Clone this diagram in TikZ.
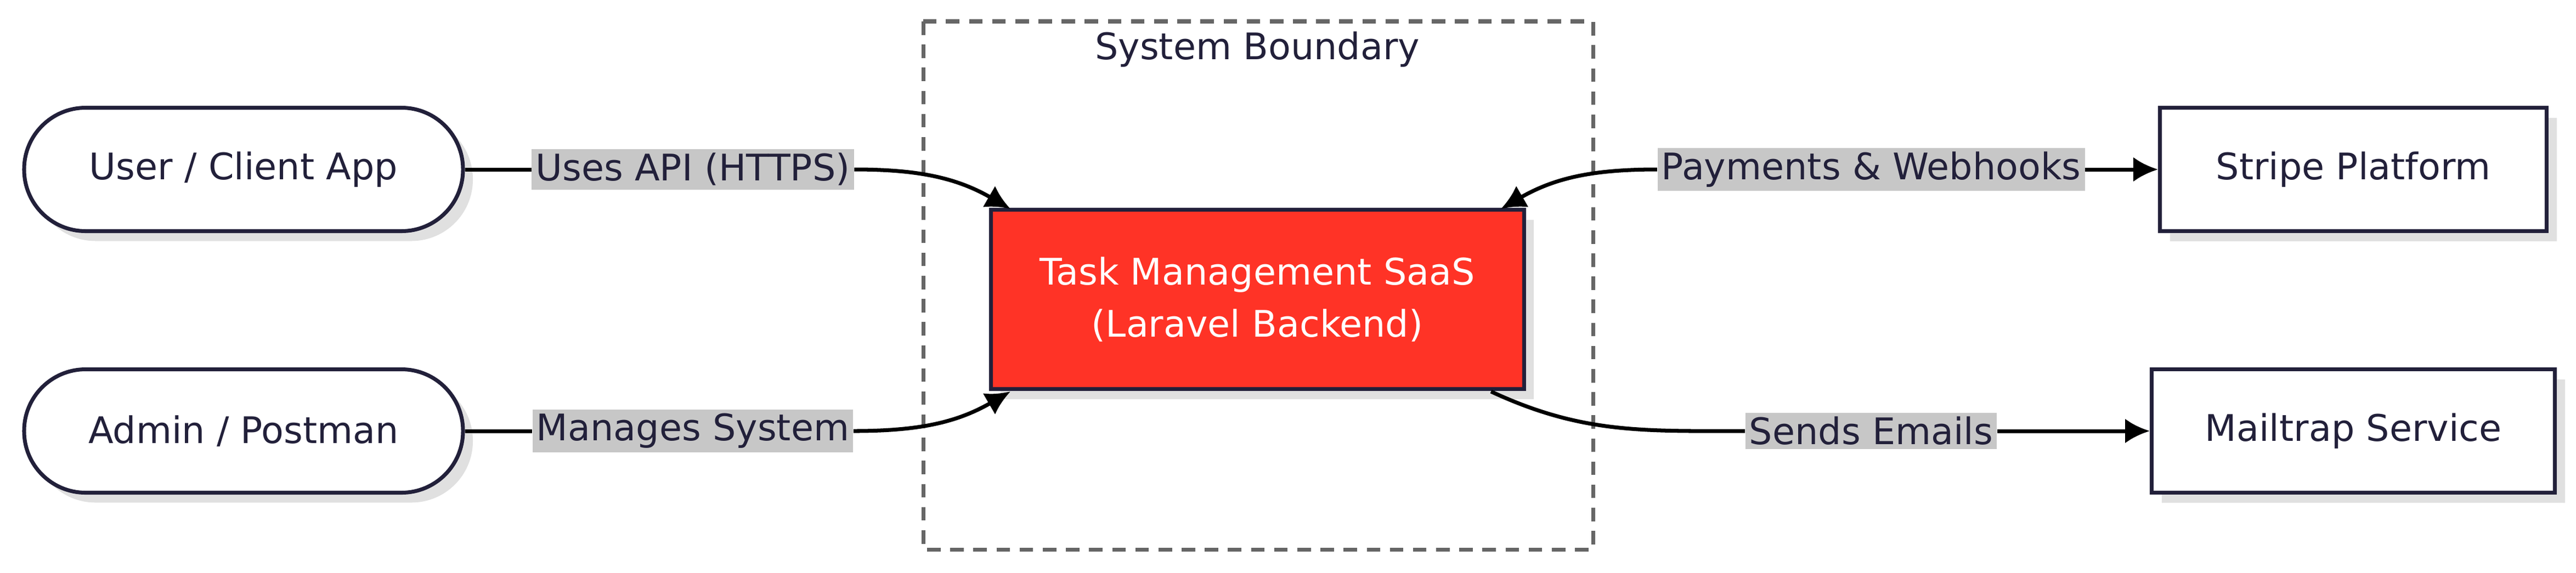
\documentclass[tikz,border=0pt]{standalone}
\usepackage{fontspec}
\setmainfont{DejaVu Sans}
\usetikzlibrary{positioning,arrows.meta,shadows}
\definecolor{ink}{HTML}{22203A}
\definecolor{saasred}{HTML}{FF3326}
\tikzset{
  >={Latex[length=4.5mm,width=4.5mm]},
  box/.style   ={draw=ink, line width=2pt, fill=white, text=ink,
                 font=\fontsize{19}{23}\selectfont,
                 drop shadow={shadow xshift=0.18cm, shadow yshift=-0.18cm, fill=black!12, opacity=1}},
  actor/.style ={box, rounded corners=1.12cm, minimum width=8cm, minimum height=2.25cm},
  ext/.style   ={box, minimum height=2.25cm},
  lbl/.style   ={fill=black!22, text=ink, font=\fontsize{19}{23}\selectfont, inner sep=2pt},
  link/.style  ={line width=2pt, draw=black},
}
\begin{document}
\begin{tikzpicture}[x=0.03cm, y=-0.03cm]
  \useasboundingbox (0,0) rectangle (1565.3,348.3);

  %--- boundary ---
  \draw[dashed, line width=2pt, draw=black!60, dash pattern=on 7pt off 5pt]
    (561,13) rectangle (968,334);
  \node[text=ink, font=\fontsize{19}{23}\selectfont] (bnd) at (764,30) {System Boundary};

  %--- nodes ---
  \node[actor] (user)  at (148,103) {User / Client App};
  \node[actor] (admin) at (148,262) {Admin / Postman};
  \node[box, fill=saasred, text=white, minimum width=9.72cm, minimum height=3.27cm, align=center]
    (saas) at (764,182) {Task Management SaaS\\[4pt](Laravel Backend)};
  \node[ext, minimum width=7.05cm] (stripe) at (1430,103) {Stripe Platform};
  \node[ext, minimum width=7.35cm] (mail)   at (1430,262) {Mailtrap Service};

  \coordinate (s1) at (614,127);
  \coordinate (s2) at (614,238);
  \coordinate (s3) at (912,127);
  \coordinate (s4) at (906,238);

  %--- labels ---
  \node[lbl] (api)   at (421,103)  {Uses API (HTTPS)};
  \node[lbl] (man)   at (421,262)  {Manages System};
  \node[lbl] (pay)   at (1137,103) {Payments \& Webhooks};
  \node[lbl] (mails) at (1137,262) {Sends Emails};

  %--- connectors ---
  \draw[link] (user.east) -- (api.west);
  \draw[link, ->] (api.east) to[out=0, in=150] (s1);
  \draw[link] (admin.east) -- (man.west);
  \draw[link, ->] (man.east) to[out=0, in=-150] (s2);
  \draw[link, ->] (pay.west) to[out=180, in=30] (s3);
  \draw[link, ->] (pay.east) -- (stripe.west);
  \draw[link] (s4) to[out=-25, in=180] (mails.west);
  \draw[link, ->] (mails.east) -- (mail.west);
\end{tikzpicture}
\end{document}
